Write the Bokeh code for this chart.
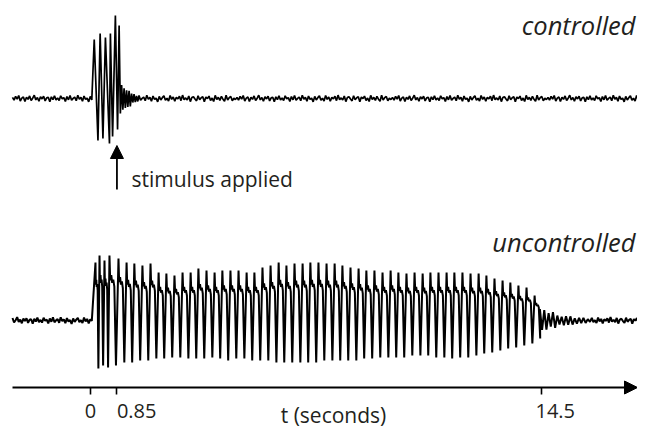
import numpy as np
from bokeh.plotting import figure
from bokeh.models import Range1d, FixedTicker, Arrow, NormalHead
from bokeh.core.properties import value
from bokeh.embed import file_html
from bokeh.resources import INLINE

# ---------------- data (time in seconds, amplitude in arbitrary units) ----------------
TICKS = [0, 0.85, 14.5]
TICK_LABELS = ["0", "0.85", "14.5"]
X_LABEL = "t (seconds)"
STIM_T = 0.85

# baseline recording noise (hand-read jitter of the flat trace)
NOISE = [0.8, -1.2, 1.5, -0.4, 2.1, -1.8, 0.3, 1.1, -2.2, 0.9, -0.6, 1.8, -1.4, 0.2, 2.4,
         -1.0, 0.7, -2.0, 1.3, -0.3, 1.6, -1.7, 0.5, 0.9, -2.3, 1.2, -0.8, 2.0, -1.1, 0.4,
         -1.5, 1.9, -0.2, 0.6, -2.1, 1.4, -0.9, 2.2, -1.3, 0.1, 1.0, -1.6, 2.3, -0.5, 0.8,
         -1.9, 1.7, -0.7, 0.3, -2.4, 1.5, -1.0, 0.6, 1.9, -1.2, 0.2, -1.8, 2.1, -0.6, 1.1,
         -2.0, 0.9, -0.3, 1.6, -1.5, 2.4, -0.8, 0.4, -1.1, 1.8, -2.2, 0.7, 1.3, -0.4, -1.7,
         2.0, -0.9, 0.5, 1.2, -2.3, 1.0, -0.1, 1.7, -1.4, 0.3, -2.1, 2.2, -0.7, 0.8, -1.3,
         1.5, -0.5, -1.9, 2.3, -1.0, 0.6, 1.4, -1.6, 0.2, -0.8]

# controlled trace: short burst, stimulus, ringing
BURST_T = [0.12, 0.24, 0.31, 0.40, 0.48, 0.61, 0.64, 0.71, 0.80, 0.87, 0.92, 0.96]
BURST_V = [59, -42, 65, -40, 61, -45, 65, -38, 83, -31, 73, -15]
RING1_T = [1.00, 1.04, 1.08, 1.12, 1.16, 1.20, 1.24, 1.28, 1.32, 1.36, 1.40, 1.44, 1.48, 1.52]
RING1_V = [13, -11, 10, -10, 9, -8, 7, -7, 6, -5, 5, -4, 3, -3]

# uncontrolled trace: sustained oscillation, peak times / peak heights / trough depths
OSC_T = [0.16, 0.29, 0.45, 0.61, 0.90, 1.16, 1.41, 1.67, 1.93, 2.19, 2.44, 2.70, 2.96, 3.22,
         3.47, 3.73, 3.99, 4.24, 4.50, 4.76, 5.02, 5.27, 5.53, 5.79, 6.05, 6.30, 6.56, 6.82,
         7.07, 7.33, 7.59, 7.85, 8.10, 8.36, 8.62, 8.87, 9.13, 9.39, 9.65, 9.90, 10.16, 10.42,
         10.68, 10.93, 11.19, 11.45, 11.70, 11.96, 12.22, 12.48, 12.73, 12.99, 13.25, 13.50,
         13.76, 14.02, 14.28]
OSC_PEAK = [58, 65, 60, 65, 62, 58, 57, 55, 57, 48, 47, 45, 48, 48, 52, 50, 48, 50, 50, 50,
            48, 48, 53, 55, 58, 55, 57, 57, 58, 58, 57, 57, 55, 53, 52, 50, 50, 48, 50, 48,
            47, 48, 47, 48, 48, 48, 48, 48, 47, 47, 45, 42, 40, 38, 35, 33, 25]
OSC_TROUGH = [48, 45, 47, 45, 42, 42, 40, 40, 38, 38, 37, 37, 38, 38, 38, 37, 38, 40, 38, 38,
              40, 40, 40, 42, 42, 42, 42, 42, 42, 40, 40, 40, 40, 40, 38, 38, 37, 37, 37, 37,
              35, 35, 35, 37, 37, 38, 37, 37, 35, 33, 32, 30, 28, 27, 25, 23, 18]
RING2_T = [14.45, 14.52, 14.59, 14.66, 14.73, 14.80, 14.87, 14.94, 15.01, 15.08, 15.15, 15.22,
           15.29, 15.36, 15.43, 15.50, 15.57, 15.64, 15.71, 15.78, 15.85, 15.92, 15.99, 16.06]
RING2_V = [11, -10, 9, -8, 8, -7, 7, -6, 6, -5, 5, -5, 4, -4, 4, -3, 3, -3, 3, -3, 2, -2, 2, -2]

# ---------------- layout constants ----------------
W, H = 637, 428
AXIS_Y = 387                     # pixel row of the time axis; 1 amplitude unit == 1 px
PX_PER_S = 31.1
T0, T1 = -90 / PX_PER_S, (W - 90) / PX_PER_S
TOP_BASE = AXIS_Y - 98
BOT_BASE = AXIS_Y - 320
T_START = (12 - 90) / PX_PER_S
STEP = 0.05
NOISE_GAIN = 1.4
TXT = "#231f20"
FONT = value("Open Sans")


def py(ref_y):
    return AXIS_Y - ref_y


def noise_segment(t_from, t_to, k0):
    ts = np.arange(t_from, t_to, STEP)
    vs = [NOISE_GAIN * NOISE[(k0 + i) % len(NOISE)] for i in range(len(ts))]
    return list(ts), vs


def controlled():
    t, v = noise_segment(T_START, 0.09, 0)
    t += BURST_T
    v += BURST_V
    t += RING1_T
    v += [r + NOISE[(i * 3) % len(NOISE)] * 0.5 for i, r in enumerate(RING1_V)]
    a, b = noise_segment(1.56, T1 + 0.1, 37)
    return t + a, v + b


SHAPE_PHASE = [0.0, 0.08, 0.20, 0.30, 0.42, 0.54, 0.72]
SHAPE_LEVEL = [1.0, 0.62, 0.70, 0.58, 0.63, 0.52, None]


def uncontrolled():
    t, v = noise_segment(T_START, 0.09, 11)
    n = len(OSC_T)
    for i in range(n):
        tp, A, D = OSC_T[i], OSC_PEAK[i], OSC_TROUGH[i]
        P = (OSC_T[i + 1] - tp) if i + 1 < n else 0.25
        for ph, lv in zip(SHAPE_PHASE, SHAPE_LEVEL):
            t.append(tp + ph * P)
            v.append(-D if lv is None else lv * A)
    t += RING2_T
    v += [r + NOISE[(i * 7) % len(NOISE)] * 0.6 for i, r in enumerate(RING2_V)]
    a, b = noise_segment(16.12, T1 + 0.1, 53)
    return t + a, v + b


p = figure(width=W, height=H, output_backend="svg", toolbar_location=None,
           x_range=Range1d(T0, T1), y_range=Range1d(AXIS_Y - H, AXIS_Y),
           x_axis_location="above", y_axis_location=None,
           min_border_left=0, min_border_right=0, min_border_top=0, min_border_bottom=0)
p.grid.visible = False
p.outline_line_color = None
p.background_fill_color = "white"

ct, cv = controlled()
ut, uv = uncontrolled()
p.line(ct, [y + TOP_BASE for y in cv], line_color="black", line_width=1.7)
p.line(ut, [y + BOT_BASE for y in uv], line_color="black", line_width=2.0)

# stimulus arrow
p.add_layout(Arrow(end=NormalHead(size=13, fill_color="black", line_color="black"),
                   x_start=STIM_T, y_start=py(189), x_end=STIM_T, y_end=py(145),
                   line_color="black", line_width=1.8))


def label(txt, x, y, size, align="left", style="normal", xoff=0):
    p.text(x=[x], y=[y], text=[txt], x_offset=xoff, text_font=FONT,
           text_font_size=size, text_font_style=style, text_color=TXT,
           text_align=align, text_baseline="middle")


label("stimulus applied", (131 - 90) / PX_PER_S, py(178), "21px")
label("controlled", T1, py(24), "25.5px", align="right", style="italic", xoff=-2)
label("uncontrolled", T1, py(241.5), "25.5px", align="right", style="italic", xoff=-2)

# time axis: the library axis is pinned at amplitude 0 inside the frame,
# its ticks point down; the arrow line carries the axis line
ax = p.xaxis[0]
ax.fixed_location = 0
ax.ticker = FixedTicker(ticks=TICKS)
ax.major_label_text_color = None
ax.major_label_text_font_size = "0px"
ax.major_label_standoff = 0
ax.minor_tick_line_color = None
ax.major_tick_in = 7
ax.major_tick_out = 0
ax.major_tick_line_width = 1.6
ax.major_tick_line_color = "black"
ax.axis_line_color = None

p.add_layout(Arrow(end=NormalHead(size=13, fill_color="black", line_color="black"),
                   x_start=T_START, y_start=0, x_end=T1, y_end=0,
                   line_color="black", line_width=2))

for t, s, al, xo in zip(TICKS, TICK_LABELS, ["center", "left", "left"], [0, 0, -6]):
    label(s, t, py(410.5), "20px", align=al, xoff=xo)
label(X_LABEL, (333 - 90) / PX_PER_S, py(414.5), "21px", align="center")

open("out.html", "w").write(file_html(p, INLINE))
